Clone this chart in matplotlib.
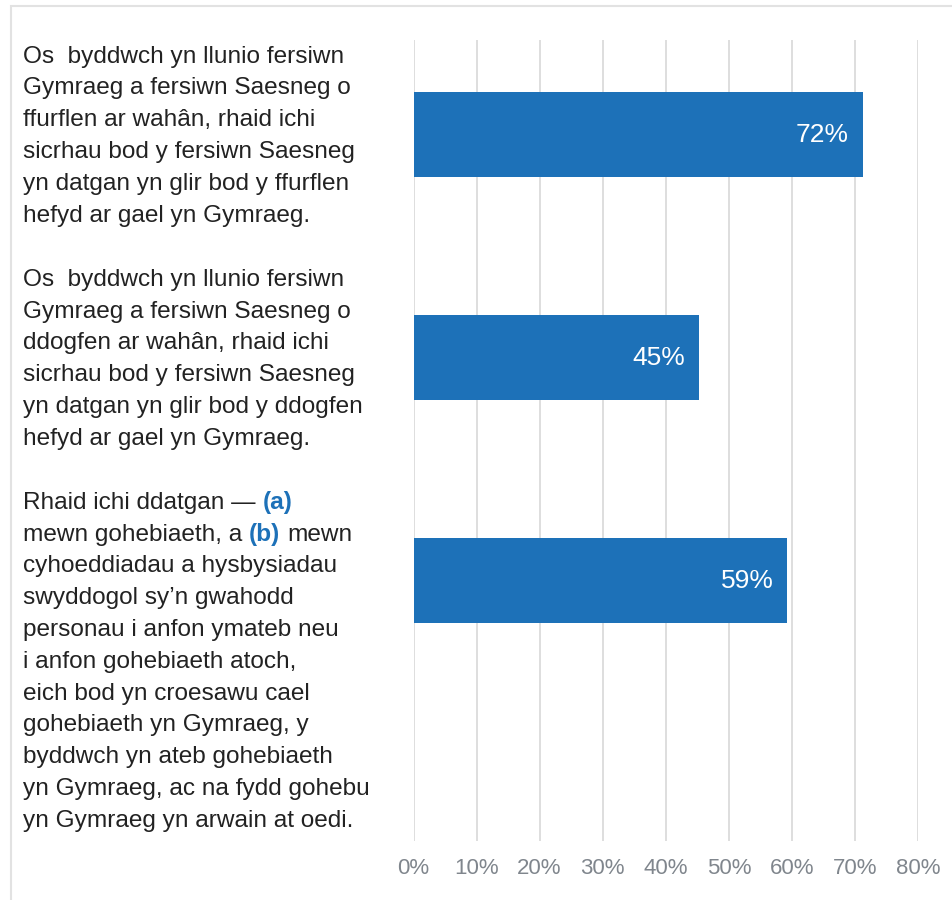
import matplotlib
matplotlib.use("Agg")
from matplotlib import pyplot as plt
from matplotlib import transforms
from matplotlib.patches import Rectangle

# statement text, one list of lines per bar; **...** marks the bold blue parts
statements = [
    ["Os  byddwch yn llunio fersiwn",
     "Gymraeg a fersiwn Saesneg o",
     "ffurflen ar wahân, rhaid ichi",
     "sicrhau bod y fersiwn Saesneg",
     "yn datgan yn glir bod y ffurflen",
     "hefyd ar gael yn Gymraeg."],
    ["Os  byddwch yn llunio fersiwn",
     "Gymraeg a fersiwn Saesneg o",
     "ddogfen ar wahân, rhaid ichi",
     "sicrhau bod y fersiwn Saesneg",
     "yn datgan yn glir bod y ddogfen",
     "hefyd ar gael yn Gymraeg."],
    ["Rhaid ichi ddatgan — **(a)**",
     "mewn gohebiaeth, a **(b)** mewn",
     "cyhoeddiadau a hysbysiadau",
     "swyddogol sy’n gwahodd",
     "personau i anfon ymateb neu",
     "i anfon gohebiaeth atoch,",
     "eich bod yn croesawu cael",
     "gohebiaeth yn Gymraeg, y",
     "byddwch yn ateb gohebiaeth",
     "yn Gymraeg, ac na fydd gohebu",
     "yn Gymraeg yn arwain at oedi."],
]
values = [71.2, 45.2, 59.3]
value_labels = ["72%", "45%", "59%"]
ticks = [0, 10, 20, 30, 40, 50, 60, 70, 80]
tick_labels = ["0%", "10%", "20%", "30%", "40%", "50%", "60%", "70%", "80%"]

BLUE = "#1d71b8"
TEXT = "#222222"
FONT = "Liberation Sans"
LABEL_SIZE = 17.6
W, H = 952, 900

plt.rcParams["font.family"] = [FONT, "DejaVu Sans"]

fig = plt.figure(figsize=(W / 100, H / 100), dpi=100)
fig.patches.append(Rectangle((11 / W, -0.1), 1, 1.1 - 6 / H, transform=fig.transFigure,
                             facecolor="none", edgecolor="#e2e2e2", linewidth=1.5))

ax = fig.add_axes([413.5 / W, 1 - 841 / H, (918 - 413.5) / W, (841 - 39.5) / H])
ypos = list(range(len(values)))
ax.barh(ypos, values, height=0.38, color=BLUE, zorder=2)
ax.set_xlim(0, 80)
ax.set_ylim(3.168, -0.426)
ax.set_xticks(ticks)
ax.set_xticklabels(tick_labels)
ax.set_yticks([])
ax.tick_params(axis="x", length=0, pad=12, labelsize=16, labelcolor="#80868d")
ax.grid(axis="x", color="#dedede", linewidth=1.4, zorder=0)
for s in ax.spines.values():
    s.set_visible(False)

for y, v, lab in zip(ypos, values, value_labels):
    ax.text(v - 2.2, y, lab, ha="right", va="center", color="white",
            fontsize=19, zorder=3)

# left-hand statements, drawn line by line so the bold parts can be coloured
fig.canvas.draw()
renderer = fig.canvas.get_renderer()


def text_width(s, **kw):
    t = fig.text(0, 0, s, fontsize=LABEL_SIZE, **kw)
    w = t.get_window_extent(renderer).width
    t.remove()
    return w


space_w = text_width("a a") - text_width("aa")
base = transforms.blended_transform_factory(fig.transFigure, ax.transData)
line_step = 31.8 / 223
for y, lines in zip(ypos, statements):
    for i, line in enumerate(lines):
        ly = y - 0.322 + i * line_step
        dx = 0.0
        for k, seg in enumerate(line.split("**")):
            if not seg:
                continue
            bold = k % 2 == 1
            kw = dict(fontweight="bold", color=BLUE) if bold else dict(color=TEXT)
            if seg.startswith(" "):
                dx += space_w
            body = seg.strip(" ")
            tr = transforms.offset_copy(base, fig=fig, x=dx, y=0, units="dots")
            t = fig.text(23 / W, ly, body, transform=tr, fontsize=LABEL_SIZE,
                         va="baseline", ha="left", **kw)
            dx += t.get_window_extent(renderer).width
            if seg.endswith(" "):
                dx += space_w

fig.savefig("out.png", dpi=100)
